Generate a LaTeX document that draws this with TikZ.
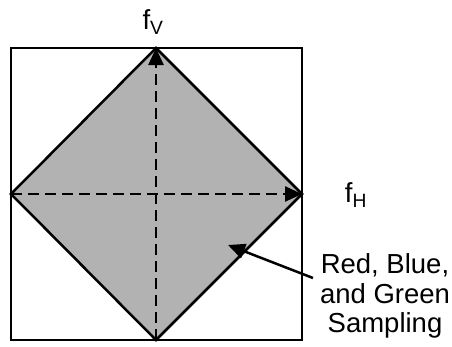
\documentclass[tikz,border=0pt]{standalone}
\usepackage{fontspec}
\setmainfont{Liberation Sans}
\usetikzlibrary{arrows.meta}
\begin{document}
\begin{tikzpicture}[x=1pt,y=-1pt,
  edge/.style={line width=2.5pt,line join=miter},
  axis/.style={line width=2.5pt,dash pattern=on 11pt off 6pt,-{Triangle[length=17pt,width=15pt]}},
  pointer/.style={line width=2.5pt,-{Triangle[length=17pt,width=15pt]}},
  lbl/.style={font=\fontsize{27.5}{29.5}\selectfont,inner sep=0pt,align=center}]
\useasboundingbox (0,0) rectangle (452,346);
\coordinate (T) at (156,48);
\coordinate (R) at (302,194);
\coordinate (B) at (156,340);
\coordinate (L) at (11,194);
\coordinate (C) at (156,194);
\draw[edge] (11,48) rectangle (302,340);
\filldraw[edge,fill=black!30] (T) -- (R) -- (B) -- (L) -- cycle;
\draw[axis] (B) -- (T);
\draw[axis] (L) -- (R);
\node[lbl] (fv) at (153,22) {f\textsubscript{V}};
\node[lbl] (fh) at (356,195) {f\textsubscript{H}};
\node[lbl] (txt) at (385,296) {Red, Blue,\\and Green\\Sampling};
\coordinate (tip) at (228,245);
\draw[pointer] (313,278) -- (tip);
\end{tikzpicture}
\end{document}
